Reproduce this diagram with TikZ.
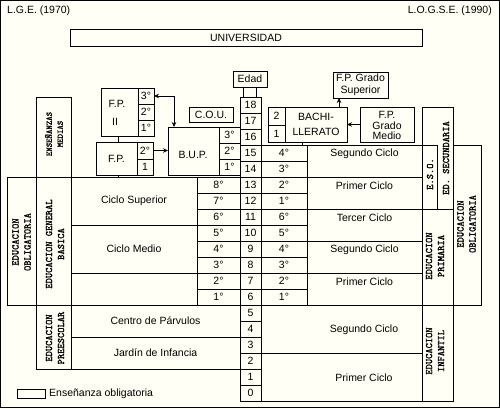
\documentclass[tikz,border=0pt]{standalone}
\usepackage{fontspec}
\setmainfont{Liberation Sans}
\newfontfamily\vlabf{lmmono10-regular.otf}[FakeBold=1.6]
\usetikzlibrary{arrows.meta}
\definecolor{bgc}{RGB}{255,255,246}
\newcommand\MyCell[6]{\node[cellst,minimum width={((#4)-(#2))*1pt},minimum height={((#5)-(#3))*1pt}] (#1) at ({((#2)+(#4))/2},{((#3)+(#5))/2}) {#6};}
\begin{document}
\begin{tikzpicture}[x=1pt,y=-1pt,
 cellst/.style={draw, line width=0.8pt, inner sep=0pt, outer sep=0pt, font=\fontsize{10.5}{12}\selectfont, align=center},
 vlab/.style={rotate=90, align=center, font=\vlabf\fontsize{10}{12}\selectfont, inner sep=0pt},
 txt/.style={font=\fontsize{10.5}{12}\selectfont, inner sep=0pt},
 arr/.style={line width=0.8pt, -{Stealth[length=5pt,width=4.5pt]}},
 arrb/.style={line width=0.8pt, {Stealth[length=5pt,width=4.5pt]}-{Stealth[length=5pt,width=4.5pt]}},
 ln/.style={line width=0.8pt}]
\fill[bgc] (0,0) rectangle (500,409);
\useasboundingbox (0,0) rectangle (500,409);
\draw[line width=1pt] (0.5,0.5) rectangle (499,407);
% titles
\node[txt, anchor=west] (tl) at (7,11) {L.G.E. (1970)};
\node[txt, anchor=east] (tr) at (492,11) {L.O.G.S.E. (1990)};
\MyCell{univ}{70}{29}{422}{46}{UNIVERSIDAD}
% age column
\MyCell{edad}{233}{71}{267}{87}{Edad}
\foreach \a in {0,...,18}{\MyCell{a\a}{240}{97+(18-\a)*16}{261}{113+(18-\a)*16}{\a}}
\draw[ln] ([xshift=-7pt]edad.south) -- ([xshift=-7pt]edad.south |- a18.north);
\draw[ln] ([xshift=6pt]edad.south) -- ([xshift=6pt]edad.south |- a18.north);
% ---------- LGE ----------
\MyCell{ensm}{36}{97}{71}{177}{}
\node[vlab, font=\vlabf\fontsize{8.4}{11}\selectfont] (ensmt) at (54,134) {ENSEÑANZAS\\MEDIAS};
\MyCell{eobl}{7}{177}{36}{305}{}
\node[vlab] (eoblt) at (21.5,242) {EDUCACION\\OBLIGATORIA};
\MyCell{egb}{36}{177}{71}{305}{}
\node[vlab] (egbt) at (55,244) {EDUCACION GENERAL\\BASICA};
\MyCell{csup}{71}{177}{197}{225}{Ciclo Superior}
\MyCell{cmed}{71}{225}{197}{273}{Ciclo Medio}
\MyCell{cini}{71}{273}{197}{305}{}
\foreach \g in {1,...,8}{\MyCell{g\g}{197}{177+(8-\g)*16}{240}{193+(8-\g)*16}{\g°}}
\MyCell{pre}{36}{305}{71}{369}{}
\node[vlab] (pret) at (55,338) {EDUCACION\\PREESCOLAR};
\MyCell{parv}{71}{305}{240}{337}{Centro de Párvulos}
\MyCell{jard}{71}{337}{240}{369}{Jardín de Infancia}
% F.P. II
\MyCell{fp2}{101}{88}{138}{136}{}
\node[txt] (fp2t) at (117,103.5) {F.P.};
\node[txt] (fp2n) at (115,122) {II};
\MyCell{fp2c}{138}{88}{154}{104}{3°}
\MyCell{fp2b}{138}{104}{154}{120}{2°}
\MyCell{fp2a}{138}{120}{154}{136}{1°}
% F.P.
\MyCell{fp1}{96}{142}{137}{175}{F.P.}
\MyCell{fp1b}{137}{142}{153}{159}{2°}
\MyCell{fp1a}{137}{159}{153}{175}{1}
\draw[ln] ([xshift=-1.5pt]fp2.south) -- ([xshift=-1.5pt]fp2.south |- fp1.north);
\draw[ln] ([xshift=1.5pt]fp1.south) -- ([xshift=1.5pt]fp1.south |- egb.north);
% B.U.P.
\MyCell{bup}{168}{127}{219}{175}{}
\node[txt] (bupt) at (193,155) {B.U.P.};
\MyCell{bup3}{219}{127}{240}{143}{3°}
\MyCell{bup2}{219}{143}{240}{159}{2°}
\MyCell{bup1}{219}{159}{240}{175}{1°}
\MyCell{cou}{189}{107}{233}{122}{C.O.U.}
\draw[arrb] (fp2c.east) -| ([xshift=-19.5pt]bup.north);
\draw[arr] (fp1b.east) -- (fp1b.east -| bup.west);
% ---------- LOGSE ----------
\MyCell{bach2}{268}{107}{285}{125}{2}
\MyCell{bach1}{268}{125}{285}{142}{1}
\MyCell{bach}{285}{107}{347}{142}{}
\node[txt, align=center, font=\fontsize{10.5}{15}\selectfont] (bacht) at (bach.center) {BACHI-\\LLERATO};
\MyCell{fpgs}{333}{72}{388}{98}{}
\node[txt, align=center, font=\fontsize{10.5}{11.5}\selectfont] (fpgst) at (fpgs.center) {F.P. Grado\\Superior};
\MyCell{fpgm}{360}{107}{414}{142}{}
\node[txt, align=center, font=\fontsize{10.5}{10.5}\selectfont] (fpgmt) at (387,125.5) {F.P.\\Grado\\Medio};
\draw[arr] ([xshift=23pt]bach.north) -- ([xshift=23pt]bach.north |- fpgs.south);
\draw[arr] (fpgm.west) -- (fpgm.west -| bach.east);
\foreach \a/\l in {15/4,14/3,13/2,12/1,11/6,10/5,9/4,8/3,7/2,6/1}{\MyCell{r\a}{261}{97+(18-\a)*16}{307}{113+(18-\a)*16}{\l°}}
\draw[ln] ([xshift=-14pt]bach.south) -- ([xshift=-14pt]bach.south |- r15.north);
\foreach \n/\t/\yy in {cA/Segundo Ciclo/145, cB/Primer Ciclo/177, cC/Tercer Ciclo/209, cD/Segundo Ciclo/241, cE/Primer Ciclo/273}{
  \MyCell{\n}{307}{\yy}{422}{\yy+32}{}
  \node[txt] (t\n) at (364.5,{\yy+9}) {\t};
}
\MyCell{infB}{261}{305}{422}{353}{}
\node[txt] (tinfB) at (364,330) {Segundo Ciclo};
\MyCell{infA}{261}{353}{422}{401}{}
\node[txt] (tinfA) at (364,378) {Primer Ciclo};
\MyCell{sec}{422}{107}{453}{209}{}
\MyCell{eso}{422}{145}{437}{209}{}
\node[vlab] (esot) at (430,174) {E.S.O.};
\node[vlab] (sect) at (446,158) {ED. SECUNDARIA};
\MyCell{prim}{422}{209}{453}{305}{}
\node[vlab] (primt) at (435,256) {EDUCACION\\PRIMARIA};
\MyCell{eobr}{453}{145}{481}{305}{}
\node[vlab] (eobrt) at (466.5,224) {EDUCACION\\OBLIGATORIA};
\MyCell{infl}{422}{305}{453}{401}{}
\node[vlab] (inflt) at (435,351) {EDUCACION\\INFANTIL};
% legend
\MyCell{leg}{17}{389}{45}{398}{}
\node[txt, anchor=west] (legt) at ([xshift=4pt]leg.east) {Enseñanza obligatoria};
\end{tikzpicture}
\end{document}
